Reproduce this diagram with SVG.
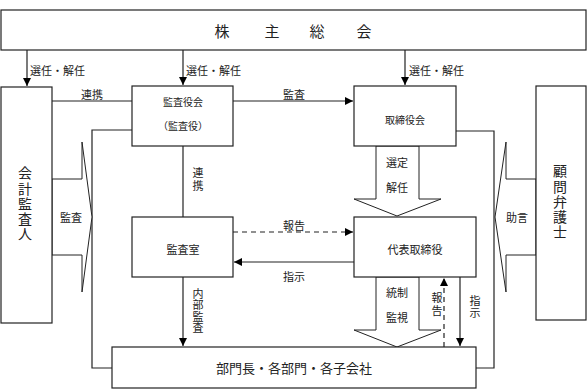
<svg xmlns="http://www.w3.org/2000/svg" width="588" height="389" viewBox="0 0 588 389">
<defs>
<marker id="ah" markerUnits="userSpaceOnUse" markerWidth="9" markerHeight="9" refX="8" refY="4" orient="auto"><path d="M0,0 L8,4 L0,8 z" fill="#000"/></marker>
</defs>
<style>
text{font-family:"Noto Sans CJK JP","Noto Sans CJK SC",sans-serif;font-size:11px;fill:#222}
.c{text-anchor:middle}
.v{writing-mode:vertical-rl;text-anchor:start}
.box{fill:#fff;stroke:#222;stroke-width:1.2}
.ln{fill:none;stroke:#222;stroke-width:1.2}
.dash{stroke-dasharray:5,4}
.big{fill:#fff;stroke:#222;stroke-width:1}
</style>
<rect width="588" height="389" fill="#fff"/>
<g id="connectors">
<line class="ln" x1="27" y1="50" x2="27" y2="86" marker-end="url(#ah)"/>
<line class="ln" x1="183" y1="50" x2="183" y2="85" marker-end="url(#ah)"/>
<line class="ln" x1="405" y1="50" x2="405" y2="85" marker-end="url(#ah)"/>
<line class="ln" x1="52" y1="101" x2="132" y2="101"/>
<line class="ln" x1="233" y1="101" x2="353" y2="101" marker-end="url(#ah)"/>
<polyline class="ln" points="132,130 92,130 92,368 112,368"/>
<polyline class="ln" points="456,131 494,131 494,368 476,368"/>
<line class="ln" x1="183" y1="146" x2="183" y2="217"/>
<line class="ln dash" x1="233" y1="232" x2="353" y2="232" marker-end="url(#ah)"/>
<line class="ln" x1="354" y1="262" x2="234" y2="262" marker-end="url(#ah)"/>
<line class="ln" x1="183" y1="277" x2="183" y2="346" marker-end="url(#ah)"/>
<line class="ln dash" x1="444" y1="347" x2="444" y2="278" marker-end="url(#ah)"/>
<line class="ln" x1="460" y1="277" x2="460" y2="346" marker-end="url(#ah)"/>
<polygon class="big" points="52,179 82,179 82,142 92,217 82,292 82,255 52,255"/>
<polygon class="big" points="536,179 506,179 506,142 495,217 506,292 506,255 536,255"/>
<polygon class="big" points="376,146 419,146 419,199 441,199 397,216 354,199 376,199"/>
<polygon class="big" points="376,277 419,277 419,330 441,330 397,347 354,330 376,330"/>
<text x="30" y="75">選任・解任</text>
<text x="186" y="75">選任・解任</text>
<text x="409" y="75">選任・解任</text>
<text class="c" x="92" y="99">連携</text>
<text class="c" x="294" y="99">監査</text>
<text class="c" x="71" y="222">監査</text>
<text class="c" x="517" y="222">助言</text>
<text class="v" x="198" y="167" style="letter-spacing:2px">連携</text>
<text class="c" x="294" y="230">報告</text>
<text class="c" x="294" y="281">指示</text>
<text class="c" x="397" y="167">選定</text>
<text class="c" x="397" y="192">解任</text>
<text class="c" x="397" y="297">統制</text>
<text class="c" x="397" y="322">監視</text>
<text class="v" x="437" y="292" style="letter-spacing:2px">報告</text>
<text class="v" x="475" y="295" style="letter-spacing:1px">指示</text>
<text class="v" x="198" y="288" style="letter-spacing:0.5px">内部監査</text>
</g>
<g id="shareholders">
<rect class="box" x="1" y="10" width="585" height="40"/>
<text class="c" style="font-size:15px" x="222" y="37">株</text>
<text class="c" style="font-size:15px" x="272" y="37">主</text>
<text class="c" style="font-size:15px" x="317" y="37">総</text>
<text class="c" style="font-size:15px" x="364" y="37">会</text>
</g>
<g id="auditor">
<rect class="box" x="1" y="87" width="51" height="236"/>
<text class="v" x="25" y="166" style="font-size:14px;letter-spacing:1.2px">会計監査人</text>
</g>
<g id="kansayakukai">
<rect class="box" x="132" y="86" width="101" height="60"/>
<text class="c" style="font-size:10px" x="183" y="106">監査役会</text>
<text class="c" style="font-size:10px" x="183" y="130">（監査役）</text>
</g>
<g id="torishimariyakukai">
<rect class="box" x="354" y="86" width="102" height="60"/>
<text class="c" style="font-size:10px" x="405" y="124">取締役会</text>
</g>
<g id="lawyer">
<rect class="box" x="536" y="86" width="50" height="234"/>
<text class="v" x="560" y="164" style="font-size:14px;letter-spacing:1.2px">顧問弁護士</text>
</g>
<g id="kansashitsu">
<rect class="box" x="132" y="217" width="101" height="60"/>
<text class="c" x="183" y="254">監査室</text>
</g>
<g id="daihyo">
<rect class="box" x="354" y="217" width="122" height="60"/>
<text class="c" x="415" y="254">代表取締役</text>
</g>
<g id="departments">
<rect class="box" x="112" y="347" width="364" height="41"/>
<text class="c" style="font-size:13px" x="294" y="373">部門長・各部門・各子会社</text>
</g>
</svg>
